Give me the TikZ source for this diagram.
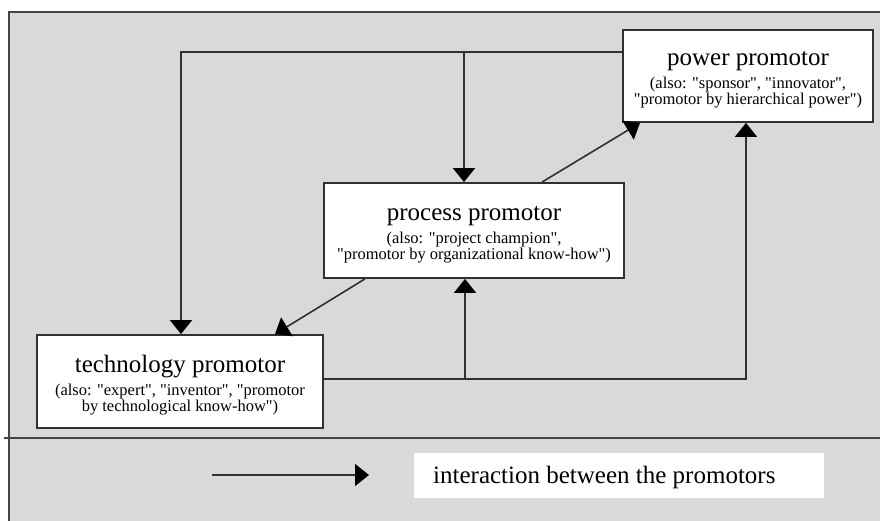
\documentclass[tikz,border=0pt]{standalone}
\usepackage{fontspec}
\setmainfont{Liberation Serif}[Ligatures=TeXOff]
\usetikzlibrary{arrows.meta}
\definecolor{bg}{HTML}{D9D9D9}
\definecolor{ln}{HTML}{303030}
\newcommand\promtitle{\fontsize{25}{28}\selectfont}
\newcommand\promsub{\fontsize{16.5}{18.5}\selectfont}
\begin{document}
\begin{tikzpicture}[x=1pt,y=-1pt,
  box/.style={draw=ln, line width=1.8pt, fill=white, inner sep=0pt},
  txt/.style={align=center, inner sep=0pt},
  conn/.style={draw=ln, line width=1.6pt, line join=miter},
  arr/.style={conn, -{Triangle[width=22pt,length=14pt,color=black]}},
  frame/.style={draw=ln!90, line width=1.8pt}]
\useasboundingbox (0,0) rectangle (880,521);
% background panel
\fill[bg] (9,12) rectangle (880,521);
\draw[frame] (9,521) -- (9,12) -- (880,12);
\draw[frame] (4,438) -- (880,438);

% boxes
\node[box, minimum width=250pt, minimum height=92pt] (power) at (748,76) {};
\node[txt] (powertxt) at ([yshift=-4pt]power.center)
  {\promtitle power promotor\\[5pt]
   \promsub (also: "sponsor", "innovator",\\
   \promsub "promotor by hierarchical power")};

\node[box, minimum width=300pt, minimum height=95pt] (process) at (474,230.5) {};
\node[txt] (processtxt) at ([yshift=-4pt]process.center)
  {\promtitle process promotor\\[5pt]
   \promsub (also: "project champion",\\
   \promsub "promotor by organizational know-how")};

\node[box, minimum width=286pt, minimum height=93pt] (tech) at (180,381.5) {};
\node[txt] (techtxt) at ([yshift=-4pt]tech.center)
  {\promtitle technology promotor\\[5pt]
   \promsub (also: "expert", "inventor", "promotor\\
   \promsub by technological know-how")};

% connectors
\coordinate (t1) at (181,52);
\coordinate (t2) at (464,52);
\coordinate (b1) at (465,379);
\coordinate (b2) at (746,379);

\draw[arr] (power.west |- t1) -- (t1) -- (t1 |- tech.north);
\draw[arr] (t2) -- (t2 |- process.north);
\draw[arr] (tech.east |- b1) -- (b2) -- (b2 |- power.south);
\draw[arr] (b1) -- (b1 |- process.south);
\draw[arr] ([xshift=68pt]process.north) -- ([xshift=-108pt]power.south);
\draw[arr] ([xshift=-109pt]process.south) -- ([xshift=95pt]tech.north);

% legend
\node[fill=white, inner sep=0pt, minimum width=410pt, minimum height=45pt] (legbox) at (619,475.5) {};
\node[anchor=base west, inner sep=0pt, font=\promtitle] (legtxt) at (433,483) {interaction between the promotors};
\coordinate (la) at (212,475);
\coordinate (lb) at (369,475);
\draw[arr] (la) -- (lb);
\end{tikzpicture}
\end{document}
